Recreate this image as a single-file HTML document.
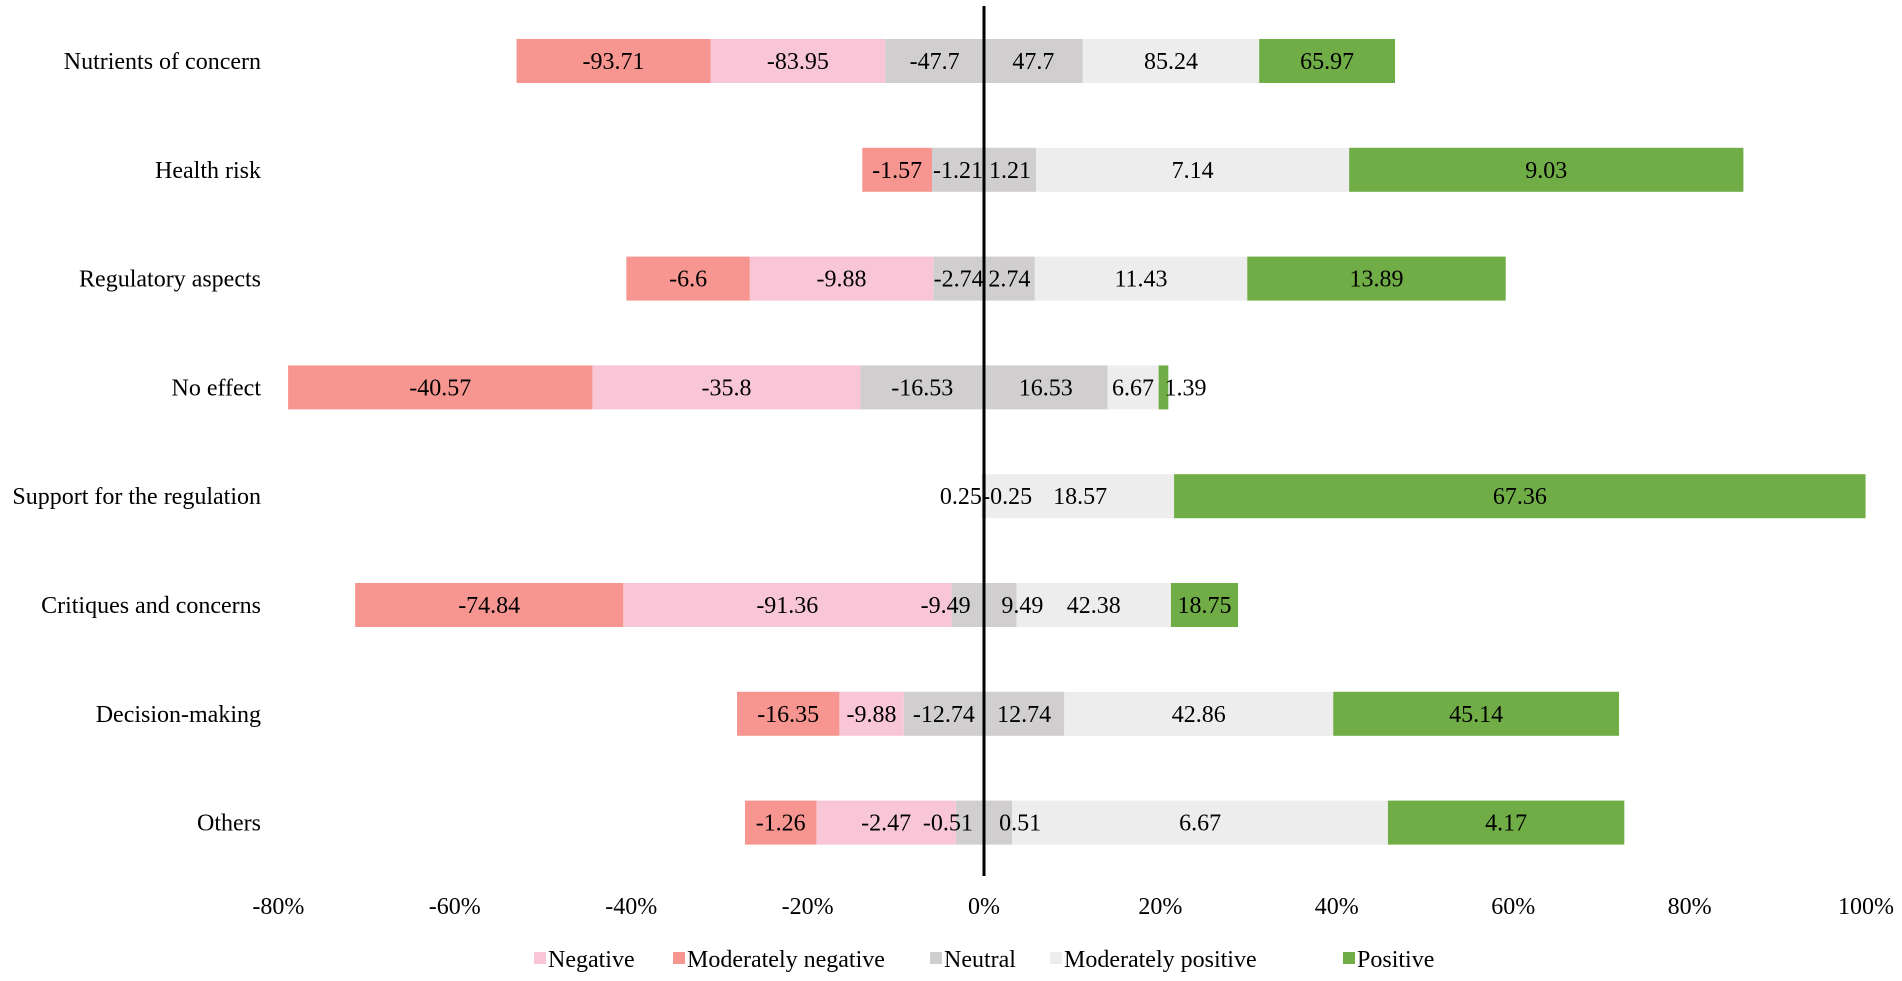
<!DOCTYPE html>
<html><head><meta charset="utf-8"><style>
body{margin:0;background:#fff;}
svg{display:block;font-family:"Liberation Serif",serif;}
</style></head><body>
<svg id="chart" width="1902" height="981" viewBox="0 0 1902 981"></svg>
<script>
const categories=["Nutrients of concern","Health risk","Regulatory aspects","No effect","Support for the regulation","Critiques and concerns","Decision-making","Others"];
const modNeg=[22.0,7.9,14.0,34.5,0,30.4,11.6,8.1];
const neg=[19.8,0,20.8,30.4,0,37.2,7.3,15.8];
const neutral=[11.2,5.9,5.75,14.0,0.25,3.7,9.1,3.2];
const modPos=[20.0,35.5,24.1,5.8,21.3,17.5,30.5,42.6];
const pos=[15.4,44.7,29.3,1.1,78.4,7.6,32.4,26.8];
const modNegLbl=["-93.71","-1.57","-6.6","-40.57","","-74.84","-16.35","-1.26"];
const negLbl=["-83.95","","-9.88","-35.8","","-91.36","-9.88","-2.47"];
const neuNegLbl=["-47.7","-1.21","-2.74","-16.53","0.25","-9.49","-12.74","-0.51"];
const neuPosLbl=["47.7","1.21","2.74","16.53","-0.25","9.49","12.74","0.51"];
const modPosLbl=["85.24","7.14","11.43","6.67","18.57","42.38","42.86","6.67"];
const posLbl=["65.97","9.03","13.89","1.39","67.36","18.75","45.14","4.17"];
const ticks=[-80,-60,-40,-20,0,20,40,60,80,100];
const legendNames=["Negative","Moderately negative","Neutral","Moderately positive","Positive"];
const colors={neg:"#f9c6d8",modNeg:"#f79590",neutral:"#d0cece",modPos:"#ededed",pos:"#70ad47"};
const NS="http://www.w3.org/2000/svg";
const svg=document.getElementById('chart');
const x=v=>984+v*8.82;
const y=i=>61+i*108.8;
const BH=44;
const FS=24;
function mk(tag,attrs,text){const e=document.createElementNS(NS,tag);for(const k in attrs)e.setAttribute(k,attrs[k]);if(text!==undefined)e.textContent=text;svg.appendChild(e);return e;}
categories.forEach((c,i)=>{
  const t=mk('text',{x:261,y:y(i)+8,'text-anchor':'end','font-size':FS,fill:'#000'},c);
  
  
  let l=-neutral[i];
  const segs=[];
  segs.push([l,neutral[i],colors.neutral,neuNegLbl[i],'neutral-negative']);
  l-=neg[i];segs.push([l,neg[i],colors.neg,negLbl[i],'negative']);
  l-=modNeg[i];segs.push([l,modNeg[i],colors.modNeg,modNegLbl[i],'moderately-negative']);
  let r=0;
  segs.push([r,neutral[i],colors.neutral,neuPosLbl[i],'neutral-positive']);r+=neutral[i];
  segs.push([r,modPos[i],colors.modPos,modPosLbl[i],'moderately-positive']);r+=modPos[i];
  segs.push([r,pos[i],colors.pos,posLbl[i],'positive']);r+=pos[i];
  segs.forEach(s=>{
    const b=mk('rect',{x:x(s[0]),y:y(i)-BH/2,width:s[1]*8.82,height:BH,fill:s[2]});
    
    
  });
  segs.forEach(s=>{
    if(!s[3])return;
    let cx=x(s[0]+s[1]/2);
    if(s[1]<5){cx+= s[0]<0?-22:22;}
    const lt=mk('text',{x:cx,y:y(i)+8,'text-anchor':'middle','font-size':FS,fill:'#000'},s[3]);
    
    
  });
});
const zl=mk('line',{x1:x(0),x2:x(0),y1:6,y2:876,stroke:'#000','stroke-width':3});


ticks.forEach(t=>{
  const e=mk('text',{x:x(t),y:914,'text-anchor':'middle','font-size':FS,fill:'#000'},t+'%');
  
  
});
const lx=[534,673,930,1050,1343];
const lc=[colors.neg,colors.modNeg,colors.neutral,colors.modPos,colors.pos];
legendNames.forEach((n,k)=>{
  const s=mk('rect',{x:lx[k],y:952,width:12,height:12,fill:lc[k]});
  
  
  const t=mk('text',{x:lx[k]+14,y:967,'font-size':FS,fill:'#000'},n);
  
  
});
</script>
</body></html>
